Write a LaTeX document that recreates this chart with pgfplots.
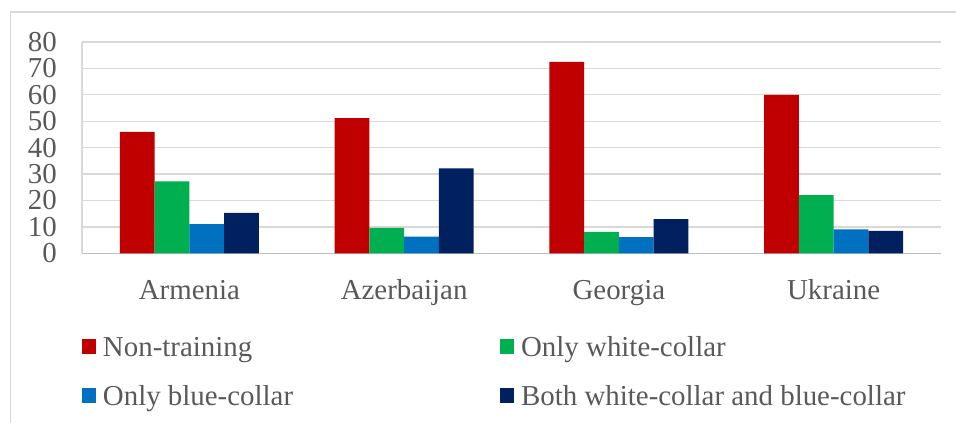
\documentclass[border=0pt]{standalone}
\usepackage{pgfplots}
\pgfplotsset{compat=1.18}
\usepackage{fontspec}
\setmainfont{Liberation Serif}
\definecolor{cred}{HTML}{C00000}
\definecolor{cgreen}{HTML}{00B050}
\definecolor{cblue}{HTML}{0070C0}
\definecolor{cnavy}{HTML}{002060}
\definecolor{textgray}{HTML}{595959}
\definecolor{gridgray}{HTML}{D9D9D9}
\definecolor{axisgray}{HTML}{BFBFBF}
\begin{document}
\begin{tikzpicture}
\useasboundingbox (-82bp,-169.7bp) rectangle (874bp,253.3bp);
\draw[color=gridgray, line width=1.5bp] (-71.5bp,-172bp) -- (-71.5bp,241.3bp) -- (876bp,241.3bp);
\begin{axis}[
  at={(0bp,0bp)}, anchor=south west,
  scale only axis, width=859bp, height=211.3bp,
  ymin=0, ymax=80, ytick={0,10,...,80},
  xmin=-0.5, xmax=3.5, xtick={0,1,2,3},
  xticklabels={Armenia,Azerbaijan,Georgia,Ukraine},
  ybar=0pt, bar width=34.7bp,
  major tick length=0pt,
  ymajorgrids, grid style={draw=gridgray, line width=1.3bp},
  axis x line*=bottom, axis y line*=left,
  x axis line style={-, draw=axisgray, line width=1.5bp},
  y axis line style={-, draw=gridgray, line width=1.2bp},
  tick label style={font=\fontsize{29}{34}\selectfont, text=textgray},
  /pgf/number format/assume math mode=true,
  yticklabel style={anchor=east, inner sep=0pt, xshift=-25bp},
  xticklabel style={anchor=base, inner sep=0pt, yshift=-45.7bp},
  legend columns=2,
  legend style={at={(0,0)}, anchor=north west, yshift=-80.7bp,
    draw=none, fill=none, inner sep=0pt, outer sep=0pt,
    font=\fontsize{29}{34}\selectfont, text=textgray,
    cells={anchor=west},
    nodes={inner sep=0pt, text height=22bp, text depth=7bp},
    column sep=7bp, row sep=20bp,
    /tikz/every even column/.append style={column sep=207bp}},
  legend image code/.code={\fill[#1,draw=none] (0bp,-5.5bp) rectangle (14bp,9.5bp);},
]
\addplot[fill=cred, draw=none] coordinates {(0,46.0) (1,51.2) (2,72.5) (3,60.0)};
\addlegendentry{Non-training}
\addplot[fill=cgreen, draw=none] coordinates {(0,27.2) (1,9.6) (2,8.1) (3,22.0)};
\addlegendentry{Only white-collar}
\addplot[fill=cblue, draw=none] coordinates {(0,11.0) (1,6.3) (2,6.1) (3,9.1)};
\addlegendentry{Only blue-collar}
\addplot[fill=cnavy, draw=none] coordinates {(0,15.3) (1,32.2) (2,12.9) (3,8.5)};
\addlegendentry{Both white-collar and blue-collar}
\end{axis}
\end{tikzpicture}
\end{document}
